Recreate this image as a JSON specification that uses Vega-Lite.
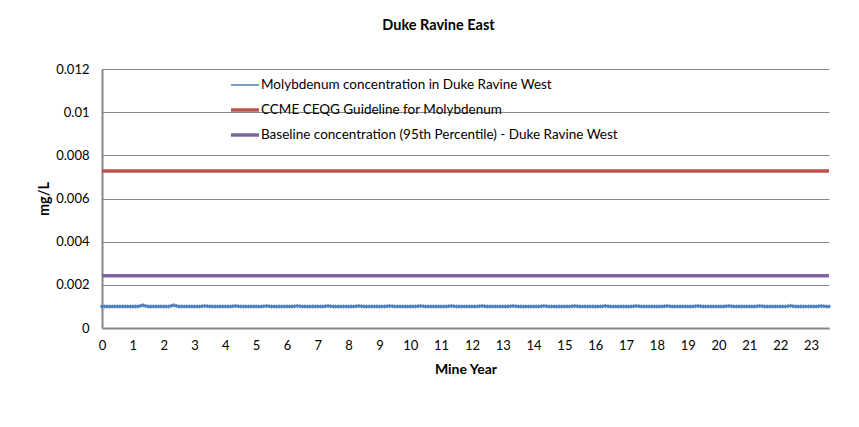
{
"$schema":"https://vega.github.io/schema/vega-lite/v6.json",
"width":727,"height":259,
"autosize":{"type":"none"},
"padding":{"left":102,"top":69,"right":30,"bottom":99},
"background":"white",
"title":{"text":"Duke Ravine East","font":"Lato","fontSize":14.5,"fontWeight":"bold","color":"#000","anchor":"middle","dx":-27,"offset":30},
"config":{"view":{"stroke":null},"font":"Lato"},
"data":{"values":[
{"x":0,"y":0.001,"s":"M"},{"x":0.083,"y":0.001,"s":"M"},{"x":0.167,"y":0.001,"s":"M"},{"x":0.25,"y":0.001,"s":"M"},{"x":0.333,"y":0.001,"s":"M"},{"x":0.417,"y":0.001,"s":"M"},{"x":0.5,"y":0.001,"s":"M"},{"x":0.583,"y":0.001,"s":"M"},{"x":0.667,"y":0.001,"s":"M"},{"x":0.75,"y":0.001,"s":"M"},{"x":0.833,"y":0.001,"s":"M"},{"x":0.917,"y":0.001,"s":"M"},
{"x":1,"y":0.001,"s":"M"},{"x":1.083,"y":0.001,"s":"M"},{"x":1.167,"y":0.001,"s":"M"},{"x":1.25,"y":0.00103,"s":"M"},{"x":1.333,"y":0.00105,"s":"M"},{"x":1.417,"y":0.00102,"s":"M"},{"x":1.5,"y":0.001,"s":"M"},{"x":1.583,"y":0.001,"s":"M"},{"x":1.667,"y":0.001,"s":"M"},{"x":1.75,"y":0.001,"s":"M"},{"x":1.833,"y":0.001,"s":"M"},{"x":1.917,"y":0.001,"s":"M"},
{"x":2,"y":0.001,"s":"M"},{"x":2.083,"y":0.001,"s":"M"},{"x":2.167,"y":0.001,"s":"M"},{"x":2.25,"y":0.00103,"s":"M"},{"x":2.333,"y":0.00105,"s":"M"},{"x":2.417,"y":0.00102,"s":"M"},{"x":2.5,"y":0.001,"s":"M"},{"x":2.583,"y":0.001,"s":"M"},{"x":2.667,"y":0.001,"s":"M"},{"x":2.75,"y":0.001,"s":"M"},{"x":2.833,"y":0.001,"s":"M"},{"x":2.917,"y":0.001,"s":"M"},
{"x":3,"y":0.001,"s":"M"},{"x":3.083,"y":0.001,"s":"M"},{"x":3.167,"y":0.001,"s":"M"},{"x":3.25,"y":0.00101,"s":"M"},{"x":3.333,"y":0.00102,"s":"M"},{"x":3.417,"y":0.00101,"s":"M"},{"x":3.5,"y":0.001,"s":"M"},{"x":3.583,"y":0.001,"s":"M"},{"x":3.667,"y":0.001,"s":"M"},{"x":3.75,"y":0.001,"s":"M"},{"x":3.833,"y":0.001,"s":"M"},{"x":3.917,"y":0.001,"s":"M"},
{"x":4,"y":0.001,"s":"M"},{"x":4.083,"y":0.001,"s":"M"},{"x":4.167,"y":0.001,"s":"M"},{"x":4.25,"y":0.00101,"s":"M"},{"x":4.333,"y":0.00102,"s":"M"},{"x":4.417,"y":0.00101,"s":"M"},{"x":4.5,"y":0.001,"s":"M"},{"x":4.583,"y":0.001,"s":"M"},{"x":4.667,"y":0.001,"s":"M"},{"x":4.75,"y":0.001,"s":"M"},{"x":4.833,"y":0.001,"s":"M"},{"x":4.917,"y":0.001,"s":"M"},
{"x":5,"y":0.001,"s":"M"},{"x":5.083,"y":0.001,"s":"M"},{"x":5.167,"y":0.001,"s":"M"},{"x":5.25,"y":0.00101,"s":"M"},{"x":5.333,"y":0.00102,"s":"M"},{"x":5.417,"y":0.00101,"s":"M"},{"x":5.5,"y":0.001,"s":"M"},{"x":5.583,"y":0.001,"s":"M"},{"x":5.667,"y":0.001,"s":"M"},{"x":5.75,"y":0.001,"s":"M"},{"x":5.833,"y":0.001,"s":"M"},{"x":5.917,"y":0.001,"s":"M"},
{"x":6,"y":0.001,"s":"M"},{"x":6.083,"y":0.001,"s":"M"},{"x":6.167,"y":0.001,"s":"M"},{"x":6.25,"y":0.00101,"s":"M"},{"x":6.333,"y":0.00102,"s":"M"},{"x":6.417,"y":0.00101,"s":"M"},{"x":6.5,"y":0.001,"s":"M"},{"x":6.583,"y":0.001,"s":"M"},{"x":6.667,"y":0.001,"s":"M"},{"x":6.75,"y":0.001,"s":"M"},{"x":6.833,"y":0.001,"s":"M"},{"x":6.917,"y":0.001,"s":"M"},
{"x":7,"y":0.001,"s":"M"},{"x":7.083,"y":0.001,"s":"M"},{"x":7.167,"y":0.001,"s":"M"},{"x":7.25,"y":0.00101,"s":"M"},{"x":7.333,"y":0.00102,"s":"M"},{"x":7.417,"y":0.00101,"s":"M"},{"x":7.5,"y":0.001,"s":"M"},{"x":7.583,"y":0.001,"s":"M"},{"x":7.667,"y":0.001,"s":"M"},{"x":7.75,"y":0.001,"s":"M"},{"x":7.833,"y":0.001,"s":"M"},{"x":7.917,"y":0.001,"s":"M"},
{"x":8,"y":0.001,"s":"M"},{"x":8.083,"y":0.001,"s":"M"},{"x":8.167,"y":0.001,"s":"M"},{"x":8.25,"y":0.00101,"s":"M"},{"x":8.333,"y":0.00102,"s":"M"},{"x":8.417,"y":0.00101,"s":"M"},{"x":8.5,"y":0.001,"s":"M"},{"x":8.583,"y":0.001,"s":"M"},{"x":8.667,"y":0.001,"s":"M"},{"x":8.75,"y":0.001,"s":"M"},{"x":8.833,"y":0.001,"s":"M"},{"x":8.917,"y":0.001,"s":"M"},
{"x":9,"y":0.001,"s":"M"},{"x":9.083,"y":0.001,"s":"M"},{"x":9.167,"y":0.001,"s":"M"},{"x":9.25,"y":0.00101,"s":"M"},{"x":9.333,"y":0.00102,"s":"M"},{"x":9.417,"y":0.00101,"s":"M"},{"x":9.5,"y":0.001,"s":"M"},{"x":9.583,"y":0.001,"s":"M"},{"x":9.667,"y":0.001,"s":"M"},{"x":9.75,"y":0.001,"s":"M"},{"x":9.833,"y":0.001,"s":"M"},{"x":9.917,"y":0.001,"s":"M"},
{"x":10,"y":0.001,"s":"M"},{"x":10.083,"y":0.001,"s":"M"},{"x":10.167,"y":0.001,"s":"M"},{"x":10.25,"y":0.00101,"s":"M"},{"x":10.333,"y":0.00102,"s":"M"},{"x":10.417,"y":0.00101,"s":"M"},{"x":10.5,"y":0.001,"s":"M"},{"x":10.583,"y":0.001,"s":"M"},{"x":10.667,"y":0.001,"s":"M"},{"x":10.75,"y":0.001,"s":"M"},{"x":10.833,"y":0.001,"s":"M"},{"x":10.917,"y":0.001,"s":"M"},
{"x":11,"y":0.001,"s":"M"},{"x":11.083,"y":0.001,"s":"M"},{"x":11.167,"y":0.001,"s":"M"},{"x":11.25,"y":0.00101,"s":"M"},{"x":11.333,"y":0.00102,"s":"M"},{"x":11.417,"y":0.00101,"s":"M"},{"x":11.5,"y":0.001,"s":"M"},{"x":11.583,"y":0.001,"s":"M"},{"x":11.667,"y":0.001,"s":"M"},{"x":11.75,"y":0.001,"s":"M"},{"x":11.833,"y":0.001,"s":"M"},{"x":11.917,"y":0.001,"s":"M"},
{"x":12,"y":0.001,"s":"M"},{"x":12.083,"y":0.001,"s":"M"},{"x":12.167,"y":0.001,"s":"M"},{"x":12.25,"y":0.00101,"s":"M"},{"x":12.333,"y":0.00102,"s":"M"},{"x":12.417,"y":0.00101,"s":"M"},{"x":12.5,"y":0.001,"s":"M"},{"x":12.583,"y":0.001,"s":"M"},{"x":12.667,"y":0.001,"s":"M"},{"x":12.75,"y":0.001,"s":"M"},{"x":12.833,"y":0.001,"s":"M"},{"x":12.917,"y":0.001,"s":"M"},
{"x":13,"y":0.001,"s":"M"},{"x":13.083,"y":0.001,"s":"M"},{"x":13.167,"y":0.001,"s":"M"},{"x":13.25,"y":0.00101,"s":"M"},{"x":13.333,"y":0.00102,"s":"M"},{"x":13.417,"y":0.00101,"s":"M"},{"x":13.5,"y":0.001,"s":"M"},{"x":13.583,"y":0.001,"s":"M"},{"x":13.667,"y":0.001,"s":"M"},{"x":13.75,"y":0.001,"s":"M"},{"x":13.833,"y":0.001,"s":"M"},{"x":13.917,"y":0.001,"s":"M"},
{"x":14,"y":0.001,"s":"M"},{"x":14.083,"y":0.001,"s":"M"},{"x":14.167,"y":0.001,"s":"M"},{"x":14.25,"y":0.00101,"s":"M"},{"x":14.333,"y":0.00102,"s":"M"},{"x":14.417,"y":0.00101,"s":"M"},{"x":14.5,"y":0.001,"s":"M"},{"x":14.583,"y":0.001,"s":"M"},{"x":14.667,"y":0.001,"s":"M"},{"x":14.75,"y":0.001,"s":"M"},{"x":14.833,"y":0.001,"s":"M"},{"x":14.917,"y":0.001,"s":"M"},
{"x":15,"y":0.001,"s":"M"},{"x":15.083,"y":0.001,"s":"M"},{"x":15.167,"y":0.001,"s":"M"},{"x":15.25,"y":0.00101,"s":"M"},{"x":15.333,"y":0.00102,"s":"M"},{"x":15.417,"y":0.00101,"s":"M"},{"x":15.5,"y":0.001,"s":"M"},{"x":15.583,"y":0.001,"s":"M"},{"x":15.667,"y":0.001,"s":"M"},{"x":15.75,"y":0.001,"s":"M"},{"x":15.833,"y":0.001,"s":"M"},{"x":15.917,"y":0.001,"s":"M"},
{"x":16,"y":0.001,"s":"M"},{"x":16.083,"y":0.001,"s":"M"},{"x":16.167,"y":0.001,"s":"M"},{"x":16.25,"y":0.00101,"s":"M"},{"x":16.333,"y":0.00102,"s":"M"},{"x":16.417,"y":0.00101,"s":"M"},{"x":16.5,"y":0.001,"s":"M"},{"x":16.583,"y":0.001,"s":"M"},{"x":16.667,"y":0.001,"s":"M"},{"x":16.75,"y":0.001,"s":"M"},{"x":16.833,"y":0.001,"s":"M"},{"x":16.917,"y":0.001,"s":"M"},
{"x":17,"y":0.001,"s":"M"},{"x":17.083,"y":0.001,"s":"M"},{"x":17.167,"y":0.001,"s":"M"},{"x":17.25,"y":0.00101,"s":"M"},{"x":17.333,"y":0.00102,"s":"M"},{"x":17.417,"y":0.00101,"s":"M"},{"x":17.5,"y":0.001,"s":"M"},{"x":17.583,"y":0.001,"s":"M"},{"x":17.667,"y":0.001,"s":"M"},{"x":17.75,"y":0.001,"s":"M"},{"x":17.833,"y":0.001,"s":"M"},{"x":17.917,"y":0.001,"s":"M"},
{"x":18,"y":0.001,"s":"M"},{"x":18.083,"y":0.001,"s":"M"},{"x":18.167,"y":0.001,"s":"M"},{"x":18.25,"y":0.00101,"s":"M"},{"x":18.333,"y":0.00102,"s":"M"},{"x":18.417,"y":0.00101,"s":"M"},{"x":18.5,"y":0.001,"s":"M"},{"x":18.583,"y":0.001,"s":"M"},{"x":18.667,"y":0.001,"s":"M"},{"x":18.75,"y":0.001,"s":"M"},{"x":18.833,"y":0.001,"s":"M"},{"x":18.917,"y":0.001,"s":"M"},
{"x":19,"y":0.001,"s":"M"},{"x":19.083,"y":0.001,"s":"M"},{"x":19.167,"y":0.001,"s":"M"},{"x":19.25,"y":0.00101,"s":"M"},{"x":19.333,"y":0.00102,"s":"M"},{"x":19.417,"y":0.00101,"s":"M"},{"x":19.5,"y":0.001,"s":"M"},{"x":19.583,"y":0.001,"s":"M"},{"x":19.667,"y":0.001,"s":"M"},{"x":19.75,"y":0.001,"s":"M"},{"x":19.833,"y":0.001,"s":"M"},{"x":19.917,"y":0.001,"s":"M"},
{"x":20,"y":0.001,"s":"M"},{"x":20.083,"y":0.001,"s":"M"},{"x":20.167,"y":0.001,"s":"M"},{"x":20.25,"y":0.00101,"s":"M"},{"x":20.333,"y":0.00102,"s":"M"},{"x":20.417,"y":0.00101,"s":"M"},{"x":20.5,"y":0.001,"s":"M"},{"x":20.583,"y":0.001,"s":"M"},{"x":20.667,"y":0.001,"s":"M"},{"x":20.75,"y":0.001,"s":"M"},{"x":20.833,"y":0.001,"s":"M"},{"x":20.917,"y":0.001,"s":"M"},
{"x":21,"y":0.001,"s":"M"},{"x":21.083,"y":0.001,"s":"M"},{"x":21.167,"y":0.001,"s":"M"},{"x":21.25,"y":0.00101,"s":"M"},{"x":21.333,"y":0.00102,"s":"M"},{"x":21.417,"y":0.00101,"s":"M"},{"x":21.5,"y":0.001,"s":"M"},{"x":21.583,"y":0.001,"s":"M"},{"x":21.667,"y":0.001,"s":"M"},{"x":21.75,"y":0.001,"s":"M"},{"x":21.833,"y":0.001,"s":"M"},{"x":21.917,"y":0.001,"s":"M"},
{"x":22,"y":0.001,"s":"M"},{"x":22.083,"y":0.001,"s":"M"},{"x":22.167,"y":0.001,"s":"M"},{"x":22.25,"y":0.00101,"s":"M"},{"x":22.333,"y":0.00103,"s":"M"},{"x":22.417,"y":0.00101,"s":"M"},{"x":22.5,"y":0.001,"s":"M"},{"x":22.583,"y":0.001,"s":"M"},{"x":22.667,"y":0.001,"s":"M"},{"x":22.75,"y":0.001,"s":"M"},{"x":22.833,"y":0.001,"s":"M"},{"x":22.917,"y":0.001,"s":"M"},
{"x":23,"y":0.001,"s":"M"},{"x":23.083,"y":0.001,"s":"M"},{"x":23.167,"y":0.001,"s":"M"},{"x":23.25,"y":0.00101,"s":"M"},{"x":23.333,"y":0.00102,"s":"M"},{"x":23.417,"y":0.00101,"s":"M"},{"x":23.5,"y":0.001,"s":"M"},{"x":23.583,"y":0.001,"s":"M"},
{"x":0,"y":0.00727,"s":"C"},{"x":23.583,"y":0.00727,"s":"C"},
{"x":0,"y":0.00242,"s":"B"},{"x":23.583,"y":0.00242,"s":"B"}
]},
"encoding":{
"x":{"field":"x","type":"quantitative","scale":{"domain":[0,23.583],"nice":false,"zero":false},
 "axis":{"title":"Mine Year","titleFont":"Lato","titleFontSize":14,"titleFontWeight":"bold","titleColor":"#000","titlePadding":10,
 "values":[0,1,2,3,4,5,6,7,8,9,10,11,12,13,14,15,16,17,18,19,20,21,22,23],"format":"d","labelFont":"Lato","labelFontSize":13,"labelColor":"#000","labelPadding":11,
 "grid":false,"ticks":false,"domainColor":"#868686","domainWidth":2,"labelFlush":false}},
"y":{"field":"y","type":"quantitative","scale":{"domain":[0,0.012],"nice":false},
 "axis":{"title":"mg/L","titleFont":"Lato","titleFontSize":14.5,"titleFontWeight":"bold","titleColor":"#000","titlePadding":4,
 "values":[0,0.002,0.004,0.006,0.008,0.01,0.012],"format":"~g","labelFont":"Lato","labelFontSize":13,"labelColor":"#000","labelPadding":13,
 "grid":true,"gridColor":"#868686","gridWidth":1,"ticks":false,"domainColor":"#868686","domainWidth":2}}
},
"layer":[
{"mark":{"type":"line","interpolate":"linear"},
 "encoding":{
  "color":{"field":"s","type":"nominal","scale":{"domain":["M","C","B"],"range":["#4A7EBB","#C0504D","#8064A2"]},
   "legend":{"title":null,"orient":"none","legendX":127,"legendY":1,"direction":"vertical","symbolType":"stroke","symbolSize":784,"labelFont":"Lato","labelFontSize":13.5,"labelColor":"#000","labelOffset":0,"labelLimit":600,"rowPadding":2,
   "labelExpr":"datum.label == 'M' ? 'Molybdenum concentration in Duke Ravine West' : datum.label == 'C' ? 'CCME CEQG Guideline for Molybdenum' : 'Baseline  concentration (95th Percentile) - Duke Ravine West'"}},
  "strokeWidth":{"field":"s","type":"nominal","scale":{"type":"ordinal","domain":["M","C","B"],"range":[1.5,3.5,3.5]},"legend":null}
 }},
{"transform":[{"filter":"datum.s == 'M'"}],
 "mark":{"type":"point","shape":"diamond","filled":true,"size":20,"color":"#4F81BD","opacity":1}}
]
}
